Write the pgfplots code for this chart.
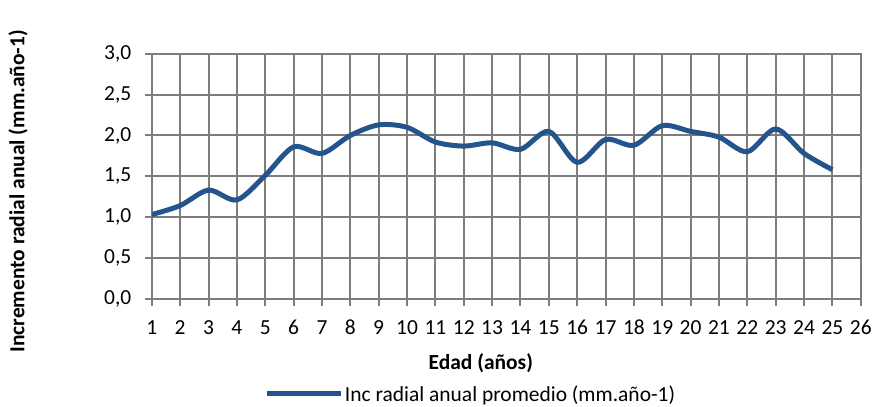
\documentclass[border=0pt]{standalone}
\usepackage{fontspec}
\setmainfont{Carlito}
\usepackage{pgfplots}
\pgfplotsset{compat=1.18}
\definecolor{serie}{RGB}{36,84,140}
\definecolor{rejilla}{RGB}{125,125,125}
\begin{document}
\begin{tikzpicture}[font=\fontsize{21.5}{25}\selectfont]
\begin{axis}[
  scale only axis, width=710pt, height=245pt,
  xmin=1, xmax=26, ymin=0, ymax=3,
  xtick={1,...,26}, ytick={0,0.5,...,3},
  grid=major, grid style={rejilla, line width=2pt},
  axis line style={rejilla, line width=2pt},
  tick style={rejilla, line width=2pt},
  tick pos=left, tick align=outside, major tick length=7pt,
  /pgf/number format/assume math mode=true,
  x tick label style={text height=1.6ex, text depth=0.2ex, anchor=north, yshift=-18pt},
  y tick label style={/pgf/number format/.cd, fixed, fixed zerofill, precision=1, use comma, /tikz/.cd, xshift=-10pt},
  xlabel={\bfseries Edad (años)},
  xlabel style={at={(axis description cs:0.464,0)}, anchor=center, yshift=-65pt},
  ylabel={\bfseries Incremento radial anual (mm.año-1)},
  ylabel style={at={(axis description cs:0,0.5)}, anchor=center, rotate=0, xshift=-15pt, yshift=134pt},
  legend style={at={(axis description cs:0.449,-0.39)}, anchor=center, draw=none, fill=none,
    nodes={inner xsep=1pt}},
  legend image code/.code={\draw[#1] (0pt,0pt) -- (75pt,0pt);},
]
\addplot[serie, line width=5pt, smooth] coordinates {
(1,1.03) (2,1.14) (3,1.33) (4,1.21) (5,1.51) (6,1.86) (7,1.78) (8,2.00) (9,2.13)
(10,2.10) (11,1.92) (12,1.87) (13,1.91) (14,1.83) (15,2.05) (16,1.67) (17,1.95)
(18,1.88) (19,2.12) (20,2.05) (21,1.98) (22,1.80) (23,2.08) (24,1.78) (25,1.58)};
\addlegendentry{Inc radial anual promedio (mm.año-1)}
\end{axis}
\path ([xshift=-152pt, yshift=-104pt]current axis.south west) rectangle ([xshift=723pt, yshift=299pt]current axis.south west);
\end{tikzpicture}
\end{document}
